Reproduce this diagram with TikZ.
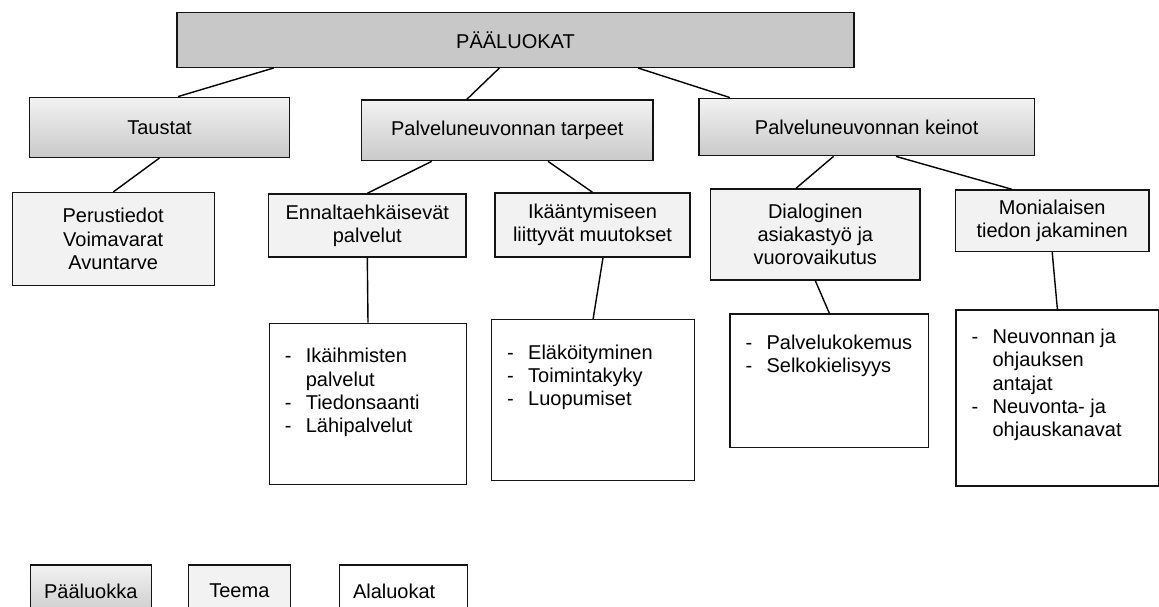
\documentclass[tikz,border=0pt]{standalone}
\usepackage{fontspec}
\setmainfont{Liberation Sans}

\newcommand{\viiva}{\makebox[21pt][l]{-}}
\newcommand{\jatko}{\hspace*{21pt}}

\begin{document}
\begin{tikzpicture}[x=1pt, y=-1pt, line width=1.4pt,
		every node/.style={font=\fontsize{20}{23.3}\selectfont},
		laatikko/.style={draw=black!92, rectangle, inner sep=0pt},
		paaluokka/.style={laatikko, top color=gray!10, bottom color=gray!42},
		teema/.style={laatikko, fill=gray!10, align=center},
		alaluokka/.style={laatikko, fill=white, anchor=north west},
		lista/.style={anchor=north west, align=left, inner xsep=15.5pt, inner ysep=0pt}]
			\clip (0,0) rectangle (1159,607);

			\node (paa)[laatikko, fill=gray!43, minimum width=677pt, minimum height=54.6pt] at (515.5, 40) {PÄÄLUOKAT};

			\node (taustat)[paaluokka, minimum width=259.5pt, minimum height=60pt] at (159.5, 127.3) {Taustat};
			\node (tarpeet)[paaluokka, minimum width=291.4pt, minimum height=60.7pt] at (507.3, 130.3) {Palveluneuvonnan tarpeet};
			\node (keinot)[paaluokka, minimum width=335.8pt, minimum height=57.4pt] at (866.7, 127) {Palveluneuvonnan keinot};

			\node (perus)[teema, minimum width=202pt, minimum height=92.6pt] at (113.2, 239) {Perustiedot\\Voimavarat\\Avuntarve};
			\node (ennalta)[teema, minimum width=197.4pt, minimum height=63pt] at (367.3, 225.5) {Ennaltaehkäisevät\\palvelut};
			\node (ikaant)[teema, minimum width=195pt, minimum height=64pt] at (592.5, 225) {Ikääntymiseen\\liittyvät muutokset};
			\node (dialogi)[teema, minimum width=209.6pt, minimum height=91pt] at (815.3, 234.5) {Dialoginen\\asiakastyö ja\\vuorovaikutus};
			\node (monial)[teema, minimum width=193.5pt, minimum height=61.5pt] at (1052.2, 220.7) {Monialaisen\\tiedon jakaminen};

			\node (ikaihm)[alaluokka, minimum width=197.4pt, minimum height=161.3pt,
				label={[lista, yshift=-25pt]north west:{\viiva Ikäihmisten\\\jatko palvelut\\\viiva Tiedonsaanti\\\viiva Lähipalvelut}}] at (268.6, 322.7) {};
			\node (elak)[alaluokka, minimum width=202.8pt, minimum height=161pt,
				label={[lista, yshift=-25pt]north west:{\viiva Eläköityminen\\\viiva Toimintakyky\\\viiva Luopumiset}}] at (491, 319) {};
			\node (palvelu)[alaluokka, minimum width=198.6pt, minimum height=133.4pt,
				label={[lista, yshift=-21pt]north west:{\viiva Palvelukokemus\\\viiva Selkokielisyys}}] at (729.4, 313.3) {};
			\node (neuvonta)[alaluokka, minimum width=202.6pt, minimum height=176pt,
				label={[lista, yshift=-19pt]north west:{\viiva Neuvonnan ja\\\jatko ohjauksen\\\jatko antajat\\\viiva Neuvonta- ja\\\jatko ohjauskanavat}}] at (955.4, 309.3) {};

			\node (lpaa)[paaluokka, anchor=north west, minimum width=121pt, minimum height=52pt] at (29.6, 564.3) {Pääluokka};
			\node (lteema)[teema, anchor=north west, minimum width=101.7pt, minimum height=52pt] at (187.8, 564.3) {Teema};
			\node (lala)[alaluokka, minimum width=128pt, minimum height=52pt, text width=101pt, align=left, inner xsep=13.5pt] at (338.8, 564.3) {Alaluokat};


			\draw ([xshift=-241.9pt]paa.south) -- ([xshift=18.5pt]taustat.north);
			\draw ([xshift=-16.1pt]paa.south) -- ([xshift=-40.4pt]tarpeet.north);
			\draw ([xshift=122.5pt]paa.south) -- ([xshift=-136.7pt]keinot.north);

			\draw (taustat.south) -- (perus.north);
			\draw ([xshift=-75.6pt]tarpeet.south) -- (ennalta.north);
			\draw ([xshift=40.7pt]tarpeet.south) -- (ikaant.north);
			\draw ([xshift=-33.2pt]keinot.south) -- ([xshift=-19.3pt]dialogi.north);
			\draw ([xshift=29.3pt]keinot.south) -- ([xshift=-40.4pt]monial.north);

			\draw (ennalta.south) -- (ikaihm.north);
			\draw ([xshift=10.5pt]ikaant.south) -- (elak.north);
			\draw (dialogi.south) -- (palvelu.north);
			\draw (monial.south) -- (neuvonta.north);
		\end{tikzpicture}
\end{document}
